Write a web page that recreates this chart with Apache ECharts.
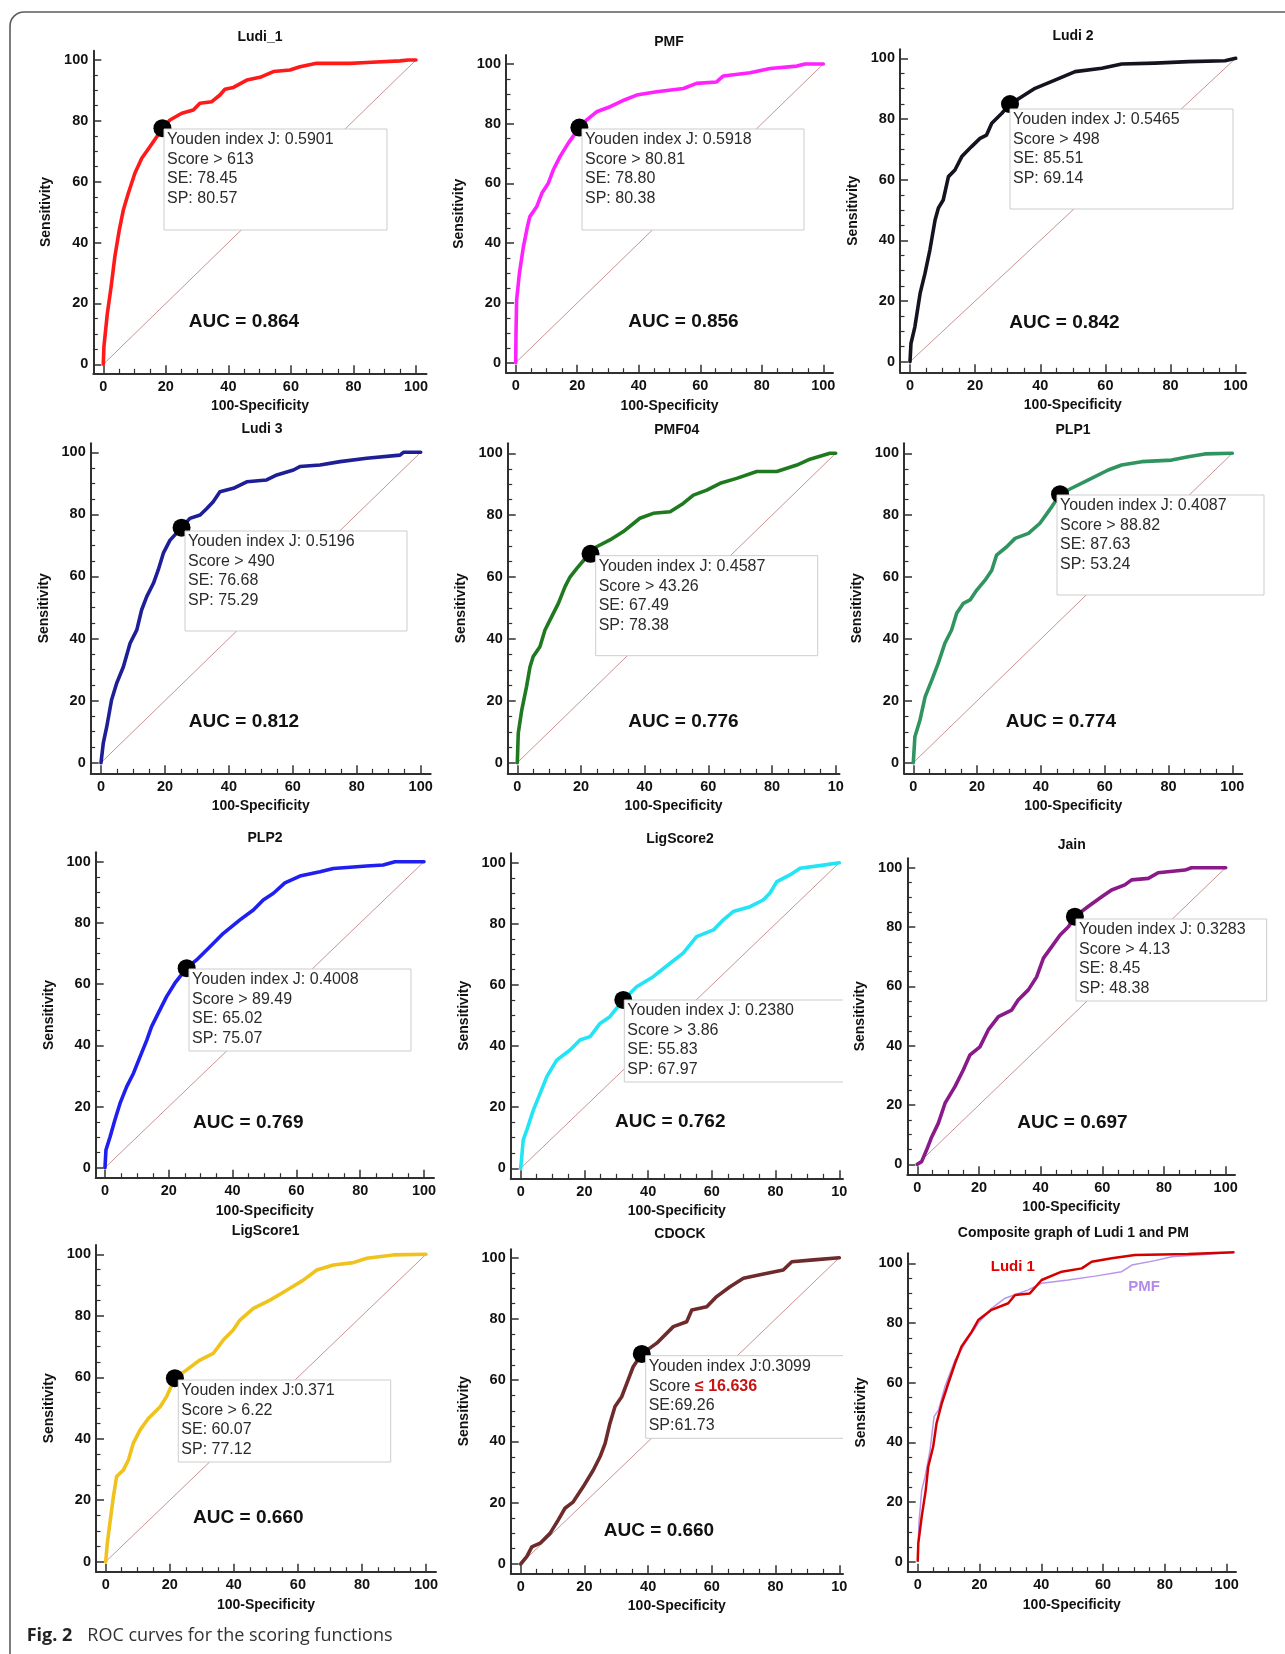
<!DOCTYPE html>
<html>
<head>
<meta charset="utf-8">
<script src="https://cdn.jsdelivr.net/npm/echarts@6/dist/echarts.min.js"></script>
<style>html,body{margin:0;padding:0;background:#fff}#chart{width:1285px;height:1654px}</style>
</head>
<body>
<div id="chart"></div>
<script>
// ---------------- DATA ----------------
const panelTitles = ['Ludi_1','PMF','Ludi 2','Ludi 3','PMF04','PLP1','PLP2','LigScore2','Jain','LigScore1','CDOCK','Composite graph of Ludi 1 and PM'];
const aucLabels = ['AUC = 0.864','AUC = 0.856','AUC = 0.842','AUC = 0.812','AUC = 0.776','AUC = 0.774','AUC = 0.769','AUC = 0.762','AUC = 0.697','AUC = 0.660','AUC = 0.660'];
const xAxisName = '100-Specificity';
const yAxisName = 'Sensitivity';
const majorTickValues = [0,20,40,60,80,100];
const minorTickValues = [5,10,15,25,30,35,45,50,55,65,70,75,85,90,95];
const tickLabelsFull = ['0','20','40','60','80','100'];
const tickLabelsCut = ['0','20','40','60','80','10'];
const diagLine = [[0,0],[100,100]];

const youdenText = [
  ['Youden index J: 0.5901','Score > 613','SE: 78.45','SP: 80.57'],
  ['Youden index J: 0.5918','Score > 80.81','SE: 78.80','SP: 80.38'],
  ['Youden index J: 0.5465','Score > 498','SE: 85.51','SP: 69.14'],
  ['Youden index J: 0.5196','Score > 490','SE: 76.68','SP: 75.29'],
  ['Youden index J: 0.4587','Score > 43.26','SE: 67.49','SP: 78.38'],
  ['Youden index J: 0.4087','Score > 88.82','SE: 87.63','SP: 53.24'],
  ['Youden index J: 0.4008','Score > 89.49','SE: 65.02','SP: 75.07'],
  ['Youden index J: 0.2380','Score > 3.86','SE: 55.83','SP: 67.97'],
  ['Youden index J: 0.3283','Score > 4.13','SE: 8.45','SP: 48.38'],
  ['Youden index J:0.371','Score > 6.22','SE: 60.07','SP: 77.12'],
  ['Youden index J:0.3099','Score ≤ 16.636','SE:69.26','SP:61.73']
];
const youdenX = [18.9, 20.7, 30.7, 25.2, 23.0, 46.0, 25.6, 32.2, 51.1, 21.6, 38.0];
const youdenY = [77.6, 78.7, 84.9, 75.7, 67.5, 86.8, 65.2, 55.1, 83.5, 59.7, 68.6];

const ludi1Curve = [[0,0],[0.2,5.8],[1.3,16.8],[2.5,25.5],[3.7,35.4],[5.1,44.1],[6.4,50.7],[8.0,56.2],[10.1,62.8],[12.3,67.7],[14.9,71.5],[17.1,74.8],[18.9,77.6],[21.3,80.3],[25.1,82.5],[28.8,83.6],[30.9,85.8],[34.7,86.3],[37.3,88.5],[38.9,90.4],[41.6,91.0],[45.9,93.4],[50.1,94.3],[54.4,96.2],[59.7,96.7],[62.9,97.8],[68.2,98.9],[78.9,98.9],[84.2,99.2],[94.9,99.7],[97.5,100],[100,100]];
const pmfCurve = [[0,0],[0.1,9.8],[0.3,21.0],[1.2,29.9],[2.5,38.8],[3.8,45.5],[4.6,48.9],[6.8,52.2],[8.5,56.7],[10.6,60.1],[12.2,64.5],[14.4,69.0],[17.1,73.5],[20.7,78.7],[23.1,81.3],[26.3,84.0],[30.7,85.7],[34.5,87.6],[39.3,89.6],[45.8,90.7],[54.5,91.8],[58.8,93.5],[65.3,94.0],[67.5,96.0],[76.2,97.1],[82.7,98.5],[91.4,99.3],[94.0,100],[100,100]];
const ludi2Curve = [[0,0],[0.3,6.0],[1.5,11.5],[3.1,22.5],[4.6,29.1],[6.1,36.8],[7.7,46.7],[8.7,50.6],[10.2,53.3],[11.8,61.0],[13.8,63.2],[15.9,67.6],[18.9,70.9],[21.5,73.6],[23.5,74.7],[25.1,78.6],[28.2,81.9],[30.7,84.9],[34.3,87.3],[38.4,90.1],[44.5,92.8],[50.7,95.6],[58.9,96.7],[65.0,98.1],[75.2,98.4],[85.5,98.9],[96.7,99.2],[100,100]];
const ludi3Curve = [[0,0],[0.7,6.2],[1.8,11.6],[3.3,20.2],[4.9,25.6],[7.0,30.9],[9.1,38.5],[11.2,42.8],[12.7,49.2],[14.3,53.5],[16.4,57.8],[17.9,62.1],[19.5,67.5],[21.6,71.7],[25.2,75.7],[27.8,78.7],[31.0,79.8],[33.1,81.9],[35.1,84.1],[37.2,87.3],[41.4,88.4],[45.6,90.5],[51.8,91.1],[55.0,92.7],[60.2,94.3],[62.2,95.4],[68.5,95.9],[74.8,97.0],[83.1,98.1],[93.5,99.1],[94.6,100],[100,100]];
const pmf04Curve = [[0,0],[0.3,9.5],[1.4,17.0],[2.9,24.6],[4.0,31.0],[5.0,34.3],[7.1,37.5],[8.7,42.9],[10.8,47.2],[12.9,51.5],[15.0,56.9],[16.6,60.1],[18.7,62.8],[21.0,65.6],[23.0,67.5],[24.9,69.8],[29.1,72.0],[33.3,74.7],[38.5,79.0],[42.7,80.6],[48.0,81.1],[52.1,83.8],[55.3,86.5],[59.5,88.1],[63.7,90.3],[68.9,91.9],[75.2,94.1],[81.5,94.1],[87.8,96.2],[91.9,98.1],[98.2,100],[100,100]];
const plp1Curve = [[0,0],[0.5,8.4],[2.1,13.8],[3.7,21.3],[5.8,26.7],[7.8,32.1],[9.9,38.6],[12.0,42.9],[13.6,48.3],[15.7,51.5],[17.8,52.6],[19.9,55.8],[22.5,59.0],[24.6,62.2],[26.1,67.1],[29.3,69.8],[31.9,72.5],[36.1,74.1],[39.7,77.4],[43.4,82.7],[46.0,86.8],[49.6,88.7],[54.9,91.4],[61.1,94.6],[65.3,96.2],[71.6,97.3],[81.0,97.8],[86.2,98.9],[91.4,99.8],[100,100]];
const plp2Curve = [[0,0],[0.3,5.8],[1.6,10.1],[3.1,15.6],[4.7,21.0],[6.8,26.5],[8.9,30.8],[11.0,36.3],[13.1,41.7],[14.6,46.1],[16.7,50.5],[19.3,55.9],[21.9,60.3],[25.6,65.2],[28.7,67.9],[32.9,72.2],[37.1,76.6],[42.3,81.0],[46.5,84.2],[49.6,87.5],[52.8,89.7],[56.4,93.1],[61.1,95.3],[67.4,96.7],[71.6,97.8],[82.0,98.6],[87.2,98.9],[90.9,100],[100,100]];
const ligScore2Curve = [[0,0],[0.8,9.3],[1.9,12.5],[4.0,19.1],[6.1,24.5],[8.2,30.0],[11.3,35.4],[15.5,38.7],[18.6,42.0],[21.8,43.1],[24.9,47.4],[28.0,49.6],[32.2,55.1],[36.4,59.4],[41.6,62.7],[46.9,67.1],[51.0,70.4],[55.2,75.8],[60.5,78.0],[63.6,81.3],[66.7,84.0],[72.0,85.6],[76.1,87.8],[78.2,90.0],[80.4,93.8],[84.5,96.0],[87.7,98.2],[95.0,99.2],[100,100]];
const jainCurve = [[0,0],[1.4,0.9],[3.0,4.8],[4.7,9.3],[6.8,13.8],[9.0,20.6],[12.2,26.2],[14.9,31.8],[17.1,36.9],[20.3,39.6],[23.0,45.3],[26.3,49.8],[30.6,52.0],[32.7,55.4],[36.0,58.8],[38.7,63.2],[40.9,69.5],[43.6,73.4],[46.3,77.3],[49.0,80.1],[51.1,83.5],[55.4,86.9],[59.8,90.2],[63.0,92.5],[67.3,94.2],[69.5,95.9],[74.9,96.4],[78.1,98.3],[86.8,99.2],[88.9,100],[100,100]];
const ligScore1Curve = [[0,0],[0.5,6.0],[1.3,12.5],[2.4,21.1],[3.4,27.7],[5.5,29.8],[7.1,33.1],[8.6,38.5],[10.7,42.8],[13.3,46.6],[17.0,50.4],[19.0,53.7],[21.6,59.7],[25.3,62.4],[29.4,65.6],[33.6,67.8],[36.7,72.1],[39.8,75.4],[41.9,78.6],[46.1,82.4],[51.3,85.1],[56.5,88.3],[61.7,91.6],[65.9,94.9],[71.1,96.5],[77.3,97.3],[81.5,98.7],[89.8,99.8],[100,100]];
const cdockCurve = [[0,0],[1.9,2.4],[3.5,5.6],[6.1,6.8],[9.2,10.0],[11.8,14.4],[13.9,18.2],[16.5,20.3],[19.6,25.2],[22.8,30.7],[24.9,35.0],[26.5,39.4],[28.0,45.9],[29.6,51.4],[31.7,54.6],[33.3,59.0],[35.3,64.4],[38.0,68.6],[42.7,72.1],[47.9,77.5],[52.1,79.1],[53.7,82.9],[58.4,84.0],[61.5,87.3],[65.7,90.5],[69.9,93.3],[75.1,94.4],[82.4,96.0],[85.1,98.7],[91.9,99.3],[100,100]];
const compositeLudi1 = [[0,0],[0.2,6.2],[1.3,15.1],[2.6,24.0],[3.4,31.8],[5.0,38.5],[6.1,46.4],[7.8,53.1],[9.9,59.8],[12.1,66.5],[14.2,72.1],[17.5,77.1],[19.6,81.0],[23.9,84.4],[29.3,86.6],[31.5,89.4],[36.3,89.9],[40.1,94.4],[46.6,97.2],[53.1,98.3],[56.3,100.5],[62.8,101.7],[70.3,102.8],[87.6,103.1],[102.5,103.7]];
const compositePmf = [[0,0],[0.4,12.9],[1.3,24.0],[2.4,28.5],[4.0,37.4],[5.3,48.6],[6.7,50.8],[8.8,58.6],[12.1,67.6],[15.3,73.2],[19.6,79.9],[23.9,84.9],[28.3,88.3],[35.8,91.1],[40.1,93.3],[48.7,94.4],[57.4,95.7],[66.0,97.2],[69.3,99.4],[76.8,100.9],[82.2,102.2],[95.1,103.1],[102.5,103.7]];
const compositeNames = ['Ludi 1','PMF'];
const captionBold = 'Fig. 2';
const captionText = 'ROC curves for the scoring functions';

const curves = [ludi1Curve, pmfCurve, ludi2Curve, ludi3Curve, pmf04Curve, plp1Curve, plp2Curve, ligScore2Curve, jainCurve, ligScore1Curve, cdockCurve];

// ---------------- LAYOUT & STYLE ----------------
const curveColors = ['#ff1a1a','#ff22ff','#141420','#1e1e96','#1f7a1f','#2f9460','#1f1ff0','#22e4f4','#8a1a8a','#f0c21c','#6e2b2b'];
const compositeColors = ['#d40000','#b994ea'];
const panelLayout = [
  {axL:93.3, x0:103.3, x100:416,   axR:426.5, axT:50.7,  y100:60,    y0:364.3,  axB:373.3,  title:[260,37],     auc:[244,322],     box:[164,129,223,101]},
  {axL:506,  x0:515.7, x100:823.3, axR:833,   axT:55,    y100:64,    y0:362.7,  axB:372.7,  title:[669,42],     auc:[683.5,322],   box:[582,129,222,101]},
  {axL:900,  x0:910,   x100:1235.7,axR:1245.7,axT:49.3,  y100:58.3,  y0:361.7,  axB:372.3,  title:[1073,36],    auc:[1064.5,323],  box:[1010,109,223,100]},
  {axL:90.7, x0:101,   x100:420.7, axR:430.7, axT:443.3, y100:452.3, y0:762.7,  axB:773.3,  title:[262,429],    auc:[244,722],     box:[185,531,222,100]},
  {axL:507.7,x0:517.3, x100:835.7, axR:839.5, axT:443.3, y100:453.3, y0:762.7,  axB:773.3,  title:[676.7,430],  auc:[683.5,722],   box:[595.7,555.7,222,100], cutLabels:true},
  {axL:904,  x0:913.3, x100:1232.3,axR:1242.3,axT:443.3, y100:453.3, y0:762.7,  axB:773.3,  title:[1073,430],   auc:[1061,722],    box:[1057,495,207,100]},
  {axL:95.7, x0:105,   x100:424,   axR:434,   axT:852.3, y100:861.7, y0:1167.7, axB:1177.7, title:[265,838.3],  auc:[248.3,1122.3],box:[189,969,222,82]},
  {axL:510.7,x0:520.7, x100:839.3, axR:843,   axT:853.3, y100:862.7, y0:1168.3, axB:1178.3, title:[680,839.3],  auc:[670.3,1122],  box:[624.3,1000,218.7,82], cutLabels:true, cutBox:true},
  {axL:907.3,x0:917.3, x100:1225.7,axR:1235,  axT:858.3, y100:867.7, y0:1164.3, axB:1174.3, title:[1071.7,845], auc:[1072.5,1122.7],box:[1076,919,190.7,82]},
  {axL:96,   x0:105.7, x100:426,   axR:436,   axT:1245,  y100:1254.3,y0:1561.7, axB:1571.7, title:[265.7,1230.7],auc:[248.3,1517.7],box:[178.3,1380,212.4,82]},
  {axL:510.7,x0:520.7, x100:839.3, axR:843,   axT:1249.3,y100:1257.7,y0:1564,   axB:1573.3, title:[680,1234],   auc:[659,1530.7],  box:[645.7,1355.7,197.3,82.6], cutLabels:true, cutBox:true},
  {axL:907.7,x0:917.7, x100:1226.7,axR:1236,  axT:1253.3,y100:1263.3,y0:1561.7, axB:1571.7, title:[1073.3,1232.7]}
];
const FONT = '"Liberation Sans", Arial, Helvetica, sans-serif';
const AX = '#303030';

function majorAxis(dim, gi, min, max, labels) {
  return {
    type: 'value', gridIndex: gi, min: min, max: max,
    position: dim === 'x' ? 'bottom' : 'left',
    name: dim === 'x' ? xAxisName : yAxisName,
    nameLocation: 'middle', nameGap: dim === 'x' ? 26 : 40,
    nameTextStyle: {fontFamily: FONT, fontWeight: 'bold', fontSize: 14, color: '#111'},
    axisLine: {show: true, onZero: false, lineStyle: {color: AX, width: 2}},
    axisTick: {show: true, inside: true, length: 8, customValues: majorTickValues, lineStyle: {color: AX, width: 1.5}},
    axisLabel: {show: true, customValues: majorTickValues, margin: dim === 'x' ? 6 : 5,
      fontFamily: FONT, fontWeight: 'bold', fontSize: 14.5, color: '#111',
      formatter: function (v) { const k = majorTickValues.indexOf(Math.round(v)); return k >= 0 ? labels[k] : ''; }},
    splitLine: {show: false}, minorTick: {show: false}
  };
}
function minorAxis(dim, gi, min, max) {
  return {
    type: 'value', gridIndex: gi, min: min, max: max,
    position: dim === 'x' ? 'bottom' : 'left',
    axisLine: {show: false, onZero: false},
    axisTick: {show: true, inside: true, length: 4.5, customValues: minorTickValues, lineStyle: {color: AX, width: 1.2}},
    axisLabel: {show: false}, splitLine: {show: false}
  };
}
function txt(x, y, text, size, weight, color, align, extra) {
  const st = Object.assign({text: text, fontSize: size, fontWeight: weight, fontFamily: FONT, fill: color,
    align: align || 'center', verticalAlign: 'middle', textAlign: align || 'center', textVerticalAlign: 'middle'}, extra || {});
  return {type: 'text', x: x, y: y, style: st, z: 110, silent: true};
}

const grids = [], xAxes = [], yAxes = [], series = [];
const gfx = [];
gfx.push({type: 'rect', shape: {x: 10, y: 12, width: 1400, height: 1800, r: 14}, style: {fill: 'none', stroke: '#5c5c5c', lineWidth: 1.6}, z: 0, silent: true});

panelLayout.forEach(function (L, i) {
  const ppx = (L.x100 - L.x0) / 100, ppy = (L.y0 - L.y100) / 100;
  const xMin = -(L.x0 - L.axL) / ppx, xMax = 100 + (L.axR - L.x100) / ppx;
  const yMin = -(L.axB - L.y0) / ppy, yMax = 100 + (L.y100 - L.axT) / ppy;
  grids.push({left: L.axL, top: L.axT, width: L.axR - L.axL, height: L.axB - L.axT, containLabel: false, outerBoundsMode: 'none'});
  xAxes.push(majorAxis('x', i, xMin, xMax, L.cutLabels ? tickLabelsCut : tickLabelsFull), minorAxis('x', i, xMin, xMax));
  yAxes.push(majorAxis('y', i, yMin, yMax, tickLabelsFull), minorAxis('y', i, yMin, yMax));
  const ax = 2 * i;
  gfx.push(txt(L.title[0], L.title[1], panelTitles[i], 14, 'bold', '#111'));
  if (i < 11) {
    series.push({type: 'line', xAxisIndex: ax, yAxisIndex: ax, data: diagLine, symbol: 'none', silent: true,
      lineStyle: {color: '#c99393', width: 1}, z: 1});
    series.push({type: 'line', xAxisIndex: ax, yAxisIndex: ax, data: curves[i], symbol: 'none', silent: true,
      lineStyle: {color: curveColors[i], width: 3.6, join: 'round', cap: 'round'}, z: 2});
    series.push({type: 'scatter', xAxisIndex: ax, yAxisIndex: ax, data: [[youdenX[i], youdenY[i]]], symbol: 'circle', symbolSize: 18, silent: true,
      itemStyle: {color: '#000', opacity: 1}, z: 3});
    gfx.push(txt(L.auc[0], L.auc[1], aucLabels[i], 19, 'bold', '#111'));
    const b = L.box;
    gfx.push({type: 'rect', shape: {x: b[0], y: b[1], width: b[2], height: b[3]},
      style: {fill: '#fff', stroke: L.cutBox ? null : '#cdcdcd', lineWidth: 1}, z: 100, silent: true});
    if (L.cutBox) {
      gfx.push({type: 'polyline', shape: {points: [[b[0] + b[2], b[1]], [b[0], b[1]], [b[0], b[1] + b[3]], [b[0] + b[2], b[1] + b[3]]]},
        style: {stroke: '#cdcdcd', fill: null, lineWidth: 1}, z: 101, silent: true});
    }
    youdenText[i].forEach(function (line, k) {
      const y = b[1] + 11 + k * 19.5;
      const m = line.indexOf('≤');
      if (m >= 0) {
        const rich = {r: {fill: '#c81414', fontWeight: 'bold', fontSize: 16, fontFamily: FONT}};
        gfx.push(txt(b[0] + 3, y, line.slice(0, m) + '{r|' + line.slice(m) + '}', 16, 'normal', '#2b2b2b', 'left', {rich: rich}));
      } else {
        gfx.push(txt(b[0] + 3, y, line, 16, 'normal', '#2b2b2b', 'left'));
      }
    });
  } else {
    series.push({type: 'line', name: compositeNames[1], xAxisIndex: ax, yAxisIndex: ax, data: compositePmf, symbol: 'none', clip: false, silent: true,
      lineStyle: {color: compositeColors[1], width: 1.5}, z: 2});
    series.push({type: 'line', name: compositeNames[0], xAxisIndex: ax, yAxisIndex: ax, data: compositeLudi1, symbol: 'none', clip: false, silent: true,
      lineStyle: {color: compositeColors[0], width: 2.5}, z: 3});
    gfx.push(txt(1012.8, 1266.7, compositeNames[0], 15, 'bold', '#e00000'));
    gfx.push(txt(1144, 1286.7, compositeNames[1], 15, 'bold', '#b48be6'));
  }
});

gfx.push(txt(26.7, 1636, captionBold, 18, 'bold', '#222', 'left', {fontFamily: '"Open Sans", "Noto Sans", sans-serif'}));
gfx.push(txt(87.3, 1636, captionText, 18, 'normal', '#333', 'left', {fontFamily: '"Open Sans", "Noto Sans", sans-serif'}));

const chart = echarts.init(document.getElementById('chart'), null, {renderer: 'canvas', width: 1285, height: 1654});
chart.setOption({
  animation: false,
  backgroundColor: '#ffffff',
  grid: grids,
  xAxis: xAxes,
  yAxis: yAxes,
  series: series,
  graphic: {elements: gfx}
});
</script>
</body>
</html>
